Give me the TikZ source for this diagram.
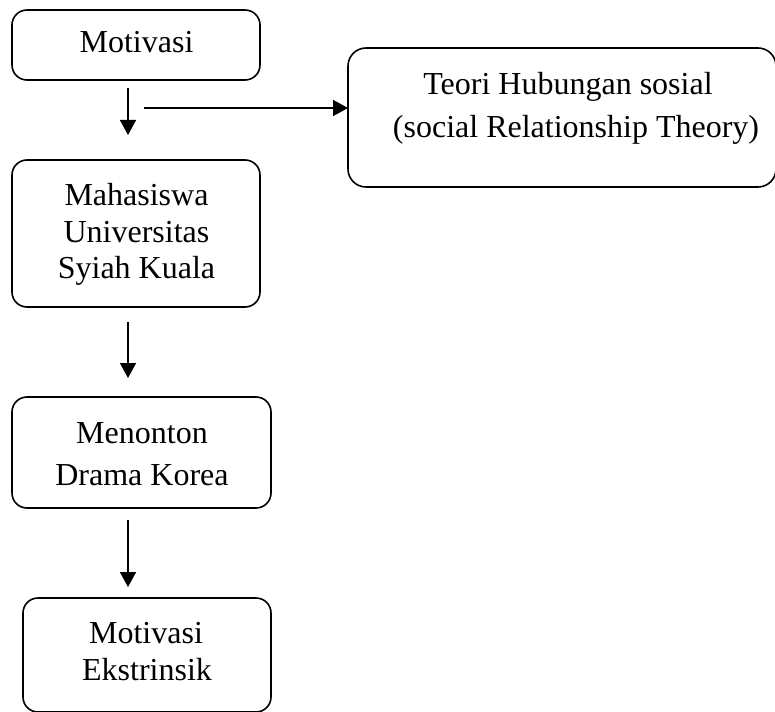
\documentclass[tikz,border=0pt]{standalone}
\usepackage{fontspec}
\setmainfont{Liberation Serif}
\usetikzlibrary{arrows.meta}
\begin{document}
\begin{tikzpicture}[x=1pt,y=-1pt,
  box/.style={draw,rounded corners=15pt,line width=1.6pt,inner sep=0pt,outer sep=0pt},
  txt/.style={anchor=base,inner sep=0pt,font=\fontsize{32}{38}\selectfont},
  arr/.style={line width=1.6pt,-{Triangle[length=15pt,width=16pt]}}]
\useasboundingbox (0,0) rectangle (775,711);
% boxes
\node[box,minimum width=248pt,minimum height=70pt] (m1) at (136,45) {};
\node[box,minimum width=428pt,minimum height=139pt,rounded corners=18pt] (t) at (562,117.5) {};
\node[box,minimum width=248pt,minimum height=147pt] (m2) at (136,233.5) {};
\node[box,minimum width=259pt,minimum height=111pt] (m3) at (141.5,452.5) {};
\node[box,minimum width=248pt,minimum height=114pt] (m4) at (147,655) {};
% texts
\node[txt] (m1a) at (136.5,53) {Motivasi};
\node[txt] (ta) at (568,95) {Teori Hubungan sosial};
\node[txt] (tb) at (576,138) {(social Relationship Theory)};
\node[txt] (m2a) at (136.5,205) {Mahasiswa};
\node[txt] (m2b) at (136.5,242) {Universitas};
\node[txt] (m2c) at (136.5,278) {Syiah Kuala};
\node[txt] (m3a) at (142,443) {Menonton};
\node[txt] (m3b) at (142,485) {Drama Korea};
\node[txt] (m4a) at (146,643) {Motivasi};
\node[txt] (m4b) at (147,680) {Ekstrinsik};
% connectors
\coordinate (h0) at (144,108);
\draw[arr] ([xshift=-8pt,yshift=-8pt]m1.south) -- ([xshift=-8pt,yshift=25pt]m2.north);
\draw[arr] (h0) -- ([yshift=9.5pt]t.west);
\draw[arr] ([xshift=-8pt,yshift=-15pt]m2.south) -- ([xshift=-13.5pt,yshift=19pt]m3.north);
\draw[arr] ([xshift=-13.5pt,yshift=-12pt]m3.south) -- ([xshift=-19pt,yshift=11pt]m4.north);
\end{tikzpicture}
\end{document}
